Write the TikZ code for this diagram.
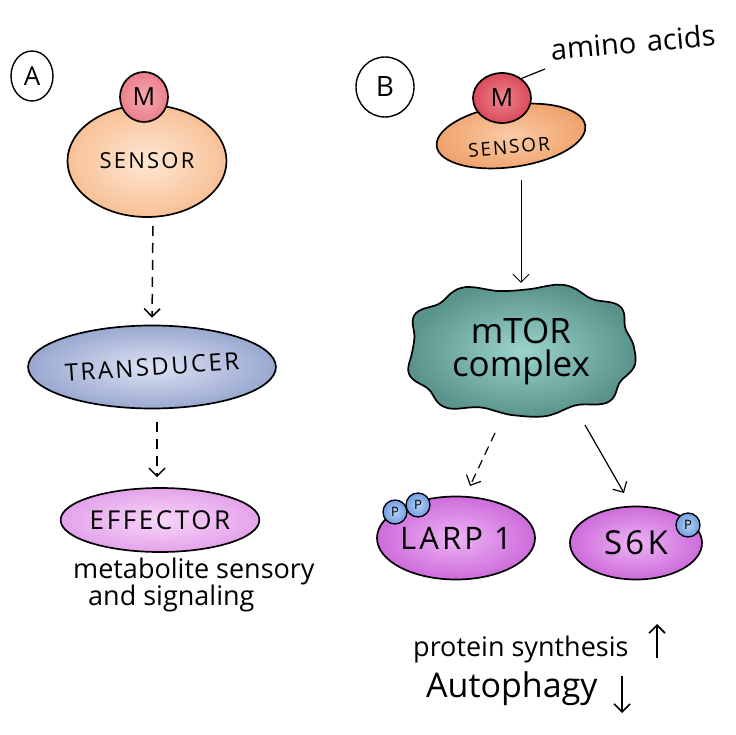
\documentclass[tikz,border=0pt]{standalone}
\usepackage{fontspec}
\setmainfont{Open Sans}
\usetikzlibrary{arrows.meta,shapes.geometric,calc}
\definecolor{peachC}{HTML}{FDE7D3}
\definecolor{peachE}{HTML}{F8C197}
\definecolor{pinkC}{HTML}{F6A9B0}
\definecolor{pinkE}{HTML}{EA7F8B}
\definecolor{blueC}{HTML}{DDE3F4}
\definecolor{blueE}{HTML}{9AA8D0}
\definecolor{lilaC}{HTML}{F7D6F8}
\definecolor{lilaE}{HTML}{E4A3EB}
\definecolor{orC}{HTML}{F9CBA6}
\definecolor{orE}{HTML}{F0A26C}
\definecolor{redC}{HTML}{EE858D}
\definecolor{redE}{HTML}{DA4A5C}
\definecolor{tealC}{HTML}{9AD4CC}
\definecolor{tealE}{HTML}{5A938C}
\definecolor{magC}{HTML}{EDB3F3}
\definecolor{magE}{HTML}{CD6CDB}
\definecolor{pC}{HTML}{B7D0F6}
\definecolor{pE}{HTML}{719EE1}
\begin{document}
\begin{tikzpicture}[x=1pt,y=-1pt,
  outl/.style={draw=black, line width=1.7pt},
  oval/.style={ellipse, outl, inner sep=0pt},
  caps/.style={font=\fontsize{#1}{#1}\selectfont\addfontfeature{LetterSpace=10}},
  hand/.style={font=\fontsize{#1}{#1}\selectfont},
  arr/.style={-{Straight Barb[length=8pt,width=16pt]}, line width=1.5pt},
  thinarr/.style={-{Straight Barb[length=8pt,width=16pt]}, line width=0.9pt},
  dsh/.style={dash pattern=on 10pt off 7pt}]
\useasboundingbox (0,0) rectangle (736,735);
\fill[white] (0,0) rectangle (736,735);

% ---------- Panel A ----------
\node[ellipse, draw=black, line width=1.4pt, minimum width=42pt, minimum height=50pt, inner sep=0pt, hand=26] (labA) at (32,76) {A};
\node[oval, inner color=peachC, outer color=peachE, minimum width=159pt, minimum height=112pt, caps=22] (sensA) at (147,161) {SENSOR};
\node[oval, inner color=pinkC, outer color=pinkE, minimum width=48pt, minimum height=50pt, hand=25] (mA) at (144,97) {M};
\node[oval, inner color=blueC, outer color=blueE, minimum width=239pt, minimum height=83pt, caps=24] (trans) at (152,367) {\rotatebox{4}{TRANSDUCER}};
\node[oval, inner color=lilaC, outer color=lilaE, minimum width=194pt, minimum height=64pt, caps=26] (eff) at (160,520) {EFFECTOR};
\draw[arr,dsh, shorten <=8pt, shorten >=7pt] ([xshift=6pt]sensA.south) -- (trans.north);
\draw[arr,dsh, shorten <=13pt, shorten >=10pt] ([xshift=5pt]trans.south) -- ([xshift=-3pt]eff.north);
\node[hand=27, anchor=base west, inner sep=0pt] (metab) at (73,578) {metabolite sensory};
\node[hand=27, anchor=base west, inner sep=0pt] (signal) at (88,605) {and signaling};

% ---------- Panel B ----------
\node[ellipse, draw=black, line width=1.4pt, minimum width=58pt, minimum height=60pt, inner sep=0pt, hand=28] (labB) at (385,87) {B};
\node[oval, rotate=8, inner color=orC, outer color=orE, minimum width=150pt, minimum height=62pt] (sensB) at (511,136) {};
\node[caps=19, rotate=5] (sensBt) at (509,147) {SENSOR};
\node[oval, inner color=redC, outer color=redE, minimum width=58pt, minimum height=50pt, hand=25] (mB) at (502,98) {M};
\coordinate (aaEnd) at (545,69);
\draw[line width=1.2pt] (mB.45) -- (aaEnd);
\node[hand=29, rotate=5, inner sep=0pt] (amino) at (633,42) {amino\hspace{3pt} acids};

\shadedraw[outl, inner color=tealC, outer color=tealE]
  plot[smooth cycle, domain=2.5:357.5, samples=72, variable=\t]
  ({521 + 111*(cos(\t)/abs(cos(\t)))*pow(abs(cos(\t)),0.75) + 4*sin(9*\t+40)*cos(\t)},
   {350 + 63*(sin(\t)/abs(sin(\t)))*pow(abs(sin(\t)),0.75) + 4*sin(9*\t+40)*sin(\t)});
\node[minimum width=226pt, minimum height=130pt, align=center, hand=35] (mtor) at (521,352) {mTOR\\[-2pt]complex};

\draw[thinarr, shorten <=12pt, shorten >=4pt] (sensB.south -| mtor.north) -- (mtor.north);

\node[oval, inner color=magC, outer color=magE, minimum width=157pt, minimum height=83pt, caps=31] (larp) at (456,538) {LARP 1};
\node[oval, inner color=magC, outer color=magE, minimum width=132pt, minimum height=73pt, caps=33] (s6k) at (636,543) {S6K};
\node[circle, outl, line width=1.3pt, inner color=pC, outer color=pE, minimum size=24pt, inner sep=0pt, hand=13] (p1) at (395,512) {P};
\node[circle, outl, line width=1.3pt, inner color=pC, outer color=pE, minimum size=24pt, inner sep=0pt, hand=13] (p2) at (418,505) {P};
\node[circle, outl, line width=1.3pt, inner color=pC, outer color=pE, minimum size=24pt, inner sep=0pt, hand=13] (p3) at (688,525) {P};

\coordinate (mtorL) at (495,433);
\coordinate (larpT) at (470,486);
\coordinate (mtorR) at (585,425);
\coordinate (s6kT) at (624,493);
\draw[thinarr, line width=1.2pt, dash pattern=on 9pt off 6pt] (mtorL) -- (larpT);
\draw[thinarr, line width=1.2pt] (mtorR) -- (s6kT);

\node[hand=27, anchor=base west, inner sep=0pt] (prot) at (413,656) {protein synthesis};
\node[hand=34, anchor=base west, inner sep=0pt] (auto) at (426,697) {Autophagy};
\coordinate (upB) at (657,658);
\coordinate (upT) at (657,624);
\coordinate (dnT) at (622,676);
\coordinate (dnB) at (622,713);
\draw[arr, line width=1.6pt] (upB) -- (upT);
\draw[arr, line width=1.6pt] (dnT) -- (dnB);
\end{tikzpicture}
\end{document}
